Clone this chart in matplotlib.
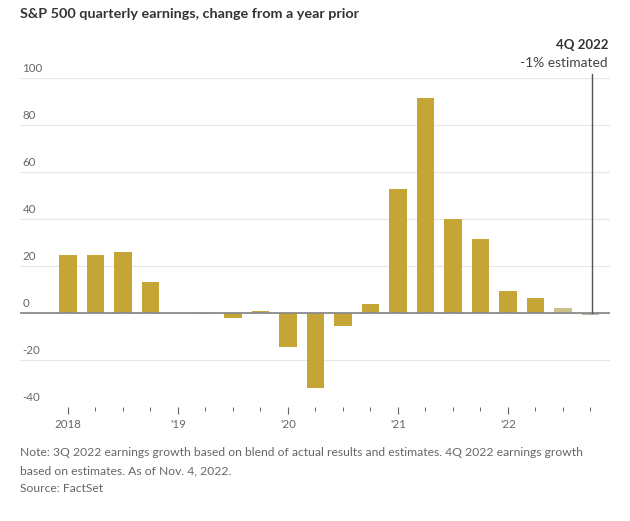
import matplotlib
matplotlib.use('Agg')
import matplotlib.pyplot as plt
from matplotlib.transforms import blended_transform_factory

plt.rcParams['font.family'] = ['Lato', 'DejaVu Sans']

quarters = ['1Q18', '2Q18', '3Q18', '4Q18', '1Q19', '2Q19', '3Q19', '4Q19',
            '1Q20', '2Q20', '3Q20', '4Q20', '1Q21', '2Q21', '3Q21', '4Q21',
            '1Q22', '2Q22', '3Q22', '4Q22']
growth = [24.8, 24.8, 25.9, 13.3, -0.2, -0.3, -2.2, 0.9,
          -14.5, -31.8, -5.7, 3.9, 52.8, 91.4, 40.2, 31.4,
          9.4, 6.3, 2.2, -1.0]
# actual, blended, estimated
status = ['a'] * 18 + ['b', 'e']
year_labels = ['2018', "'19", "'20", "'21", "'22"]
y_ticks = [-40, -20, 0, 20, 40, 60, 80, 100]

colors = {'a': '#c4a535', 'b': '#c9c08a', 'e': '#b9b49a'}
bar_colors = [colors[s] for s in status]

fig = plt.figure(figsize=(6.30, 5.21), dpi=100)
ax = fig.add_axes([20 / 630, 1 - 407 / 521, 590 / 630, 329 / 521])

x = list(range(len(quarters)))
ax.bar(x, growth, width=0.62, color=bar_colors, zorder=3)

ax.set_xlim(-1.745, 19.71)
ax.set_ylim(-40, 100)

for s in ax.spines.values():
    s.set_visible(False)

# gridlines + labels sitting above the line
trans = blended_transform_factory(ax.transAxes, ax.transData)
for v in y_ticks:
    if v == 0:
        ax.axhline(0, color='#8a8a8a', lw=1.3, zorder=4)
    else:
        ax.axhline(v, color='#e6e6e6', lw=0.8, zorder=1)
    ax.text(0.004, v + 1.5, str(v), transform=trans, fontsize=8.3,
            color='#666666', ha='left', va='bottom')

ax.set_yticks([])
ax.set_xticks(x, minor=True)
ax.set_xticks(x[::4])
ax.set_xticklabels(year_labels)
ax.tick_params(axis='x', which='minor', direction='out', length=3,
               color='#666666', width=0.7)
ax.tick_params(axis='x', which='major', direction='out', length=5,
               color='#666666', width=0.8, labelsize=8.3, labelcolor='#666666', pad=4)

# estimate marker
ax.plot([19.06, 19.06], [0, 101.5], color='#555555', lw=1, clip_on=False, zorder=5)
fig.text(608 / 630, 1 - 45 / 521, '4Q 2022', fontsize=9.5, fontweight='bold',
         color='#333333', ha='right', va='center')
fig.text(608 / 630, 1 - 63 / 521, '-1% estimated', fontsize=9.9,
         color='#444444', ha='right', va='center')

fig.text(20 / 630, 1 - 14 / 521, 'S&P 500 quarterly earnings, change from a year prior',
         fontsize=10.4, fontweight='bold', color='#333333', ha='left', va='center')

notes = ['Note: 3Q 2022 earnings growth based on blend of actual results and estimates. 4Q 2022 earnings growth',
         'based on estimates. As of Nov. 4, 2022.',
         'Source: FactSet']
for i, line in enumerate(notes):
    fig.text(20 / 630, 1 - (453 + 18 * i) / 521, line, fontsize=8.7,
             color='#666666', ha='left', va='center')

fig.savefig('out.png', dpi=100, facecolor='white')
